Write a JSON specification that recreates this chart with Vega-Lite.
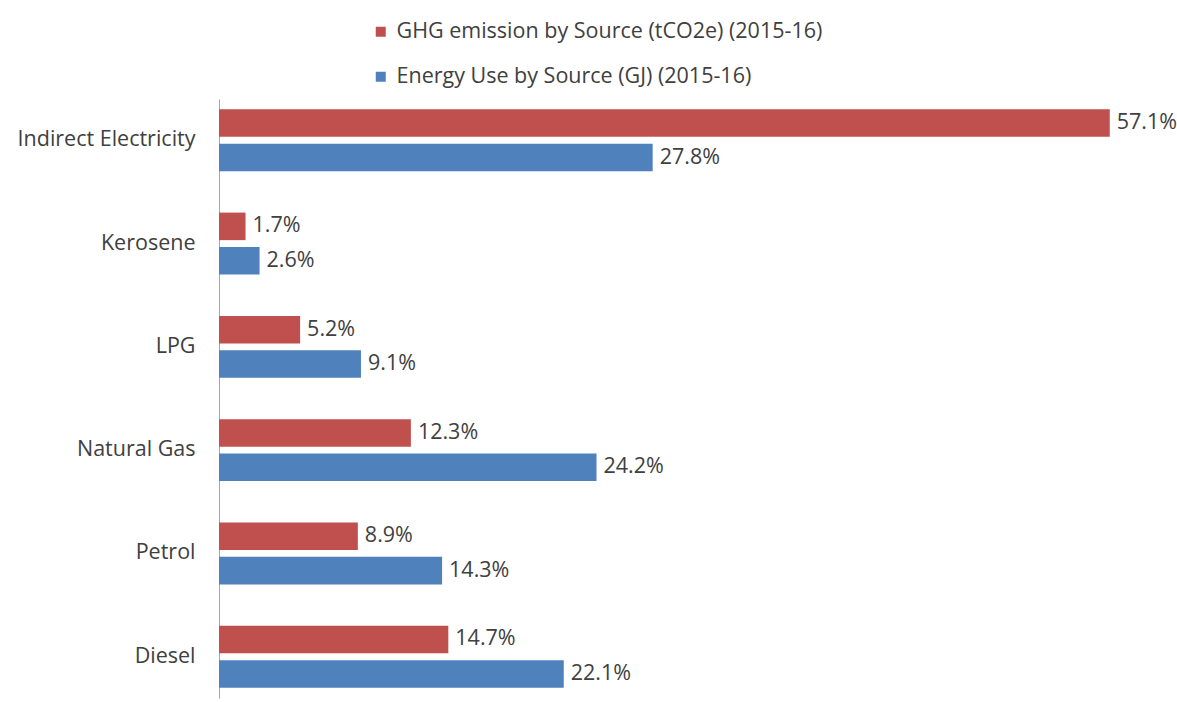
{
  "$schema": "https://vega.github.io/schema/vega-lite/v6.json",
  "autosize": {"type": "none"},
  "padding": {"left": 219, "top": 99, "right": 22, "bottom": 4},
  "width": 936,
  "height": 599,
  "background": "white",
  "config": {
    "font": "Open Sans",
    "view": {"stroke": null}
  },
  "data": {
    "values": [
      {"source": "Indirect Electricity", "series": "GHG emission by Source (tCO2e) (2015-16)", "value": 57.1},
      {"source": "Indirect Electricity", "series": "Energy Use by Source (GJ) (2015-16)", "value": 27.8},
      {"source": "Kerosene", "series": "GHG emission by Source (tCO2e) (2015-16)", "value": 1.7},
      {"source": "Kerosene", "series": "Energy Use by Source (GJ) (2015-16)", "value": 2.6},
      {"source": "LPG", "series": "GHG emission by Source (tCO2e) (2015-16)", "value": 5.2},
      {"source": "LPG", "series": "Energy Use by Source (GJ) (2015-16)", "value": 9.1},
      {"source": "Natural Gas", "series": "GHG emission by Source (tCO2e) (2015-16)", "value": 12.3},
      {"source": "Natural Gas", "series": "Energy Use by Source (GJ) (2015-16)", "value": 24.2},
      {"source": "Petrol", "series": "GHG emission by Source (tCO2e) (2015-16)", "value": 8.9},
      {"source": "Petrol", "series": "Energy Use by Source (GJ) (2015-16)", "value": 14.3},
      {"source": "Diesel", "series": "GHG emission by Source (tCO2e) (2015-16)", "value": 14.7},
      {"source": "Diesel", "series": "Energy Use by Source (GJ) (2015-16)", "value": 22.1}
    ]
  },
  "transform": [
    {"calculate": "format(datum.value, '.1f') + '%'", "as": "label"}
  ],
  "encoding": {
    "y": {
      "field": "source",
      "type": "nominal",
      "sort": ["Indirect Electricity", "Kerosene", "LPG", "Natural Gas", "Petrol", "Diesel"],
      "scale": {"paddingInner": 0.4, "paddingOuter": 0.1},
      "axis": {
        "title": null,
        "ticks": false,
        "domainColor": "#a6a6a6",
        "domainWidth": 1,
        "labelFontSize": 21.5,
        "labelColor": "#404040",
        "labelPadding": 24,
        "labelLimit": 0
      }
    },
    "yOffset": {
      "field": "series",
      "type": "nominal",
      "sort": ["GHG emission by Source (tCO2e) (2015-16)", "Energy Use by Source (GJ) (2015-16)"],
      "scale": {"paddingInner": 0.2}
    },
    "x": {
      "field": "value",
      "type": "quantitative",
      "scale": {"domain": [0, 60]},
      "axis": null
    }
  },
  "layer": [
    {
      "mark": {"type": "bar"},
      "encoding": {
        "color": {
          "field": "series",
          "type": "nominal",
          "sort": ["GHG emission by Source (tCO2e) (2015-16)", "Energy Use by Source (GJ) (2015-16)"],
          "scale": {"range": ["#C0504D", "#4F81BD"]},
          "legend": {
            "title": null,
            "orient": "none",
            "legendX": 151,
            "legendY": -78,
            "direction": "vertical",
            "symbolType": "square",
            "symbolSize": 100,
            "symbolStrokeWidth": 0,
            "labelFontSize": 21.5,
            "labelColor": "#404040",
            "labelOffset": 5,
            "labelLimit": 0,
            "rowPadding": 22
          }
        }
      }
    },
    {
      "mark": {"type": "text", "align": "left", "baseline": "middle", "dx": 7, "fontSize": 21.5, "color": "#404040"},
      "encoding": {
        "text": {"field": "label", "type": "nominal"}
      }
    }
  ]
}
